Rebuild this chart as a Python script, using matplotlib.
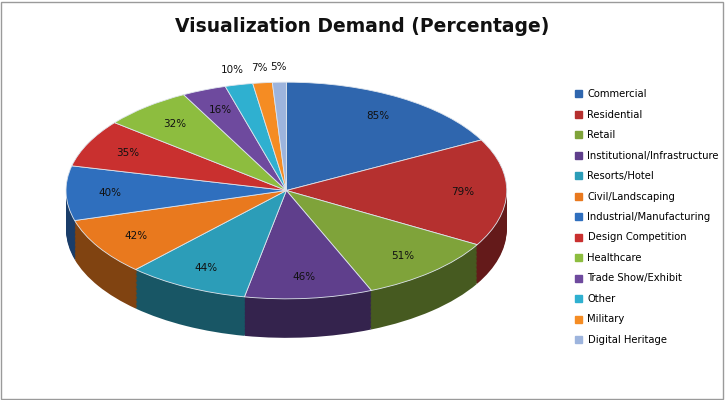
import numpy as np
import matplotlib.pyplot as plt
from matplotlib.colors import to_rgb
from matplotlib.patches import Rectangle

categories = ['Commercial', 'Residential', 'Retail', 'Institutional/Infrastructure',
              'Resorts/Hotel', 'Civil/Landscaping', 'Industrial/Manufacturing',
              'Design Competition', 'Healthcare', 'Trade Show/Exhibit', 'Other',
              'Military', 'Digital Heritage']
values = [85, 79, 51, 46, 44, 42, 40, 35, 32, 16, 10, 7, 5]
colors = ['#2F66AE', '#B5302F', '#7FA33A', '#5F3F8C', '#2C9DB8', '#E9791E',
          '#2F6FBE', '#C9302F', '#8DBD3F', '#6E4A9E', '#2FB0D0', '#F58C23', '#9DB4DD']

fig = plt.figure(figsize=(7.25, 4.0), dpi=100)
fig.patches.append(Rectangle((0.002, 0.003), 0.995, 0.993, transform=fig.transFigure,
                             fill=False, edgecolor='#9a9a9a', linewidth=1))
fig.text(0.5, 0.935, 'Visualization Demand (Percentage)', ha='center', va='center',
         fontsize=13.5, fontweight='bold', color='#111111')

ax = fig.add_axes([0.085, 0.15, 0.62, 0.65])
depth = 0.36
dark = [tuple(c * 0.55 for c in to_rgb(col)) for col in colors]
for d in np.linspace(depth, 0.01, 30):
    ax.pie(values, colors=dark, startangle=90, counterclock=False,
           center=(0, -d), radius=1, wedgeprops=dict(linewidth=0))
wedges, _ = ax.pie(values, colors=colors, startangle=90, counterclock=False,
                   radius=1, wedgeprops=dict(linewidth=0.6, edgecolor='#dfe6ee'))
ax.set_aspect('auto')
ax.set_xlim(-1.02, 1.02)
ax.set_ylim(-1 - depth - 0.02, 1.02)
ax.axis('off')

for i, w in enumerate(wedges):
    ang = np.deg2rad((w.theta1 + w.theta2) / 2)
    r = 1.14 if i >= 10 else 0.8
    ax.text(r * np.cos(ang), r * np.sin(ang), f'{values[i]}%', ha='center',
            va='center', fontsize=7.5, color='#111111')

handles = [Rectangle((0, 0), 1, 1, color=c) for c in colors]
fig.legend(handles, categories, loc='upper left', bbox_to_anchor=(0.78, 0.8),
           frameon=False, fontsize=7.2, handlelength=0.7, handleheight=0.7,
           labelspacing=1.05, handletextpad=0.6)

fig.savefig('out.png', dpi=100)
